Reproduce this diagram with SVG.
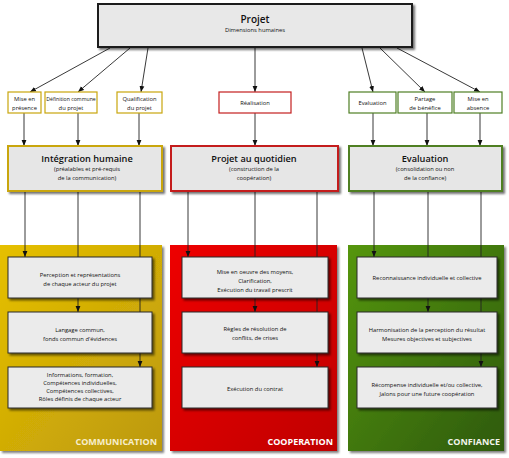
<svg xmlns="http://www.w3.org/2000/svg" width="509" height="458" viewBox="0 0 509 458">
<defs>
<filter id="sh" x="-10%" y="-10%" width="130%" height="140%">
<feDropShadow dx="2" dy="2" stdDeviation="1" flood-color="#000" flood-opacity="0.55"/>
</filter>
<filter id="shp" x="-10%" y="-10%" width="130%" height="130%">
<feDropShadow dx="2" dy="2" stdDeviation="1.2" flood-color="#000" flood-opacity="0.5"/>
</filter>
<linearGradient id="gy" x1="0" y1="0" x2="1" y2="1">
<stop offset="0" stop-color="#E6C000"/><stop offset="1" stop-color="#BC990C"/>
</linearGradient>
<linearGradient id="gr" x1="0" y1="0" x2="1" y2="1">
<stop offset="0" stop-color="#EE0000"/><stop offset="1" stop-color="#C00000"/>
</linearGradient>
<linearGradient id="gg" x1="0" y1="0" x2="1" y2="1">
<stop offset="0" stop-color="#55960F"/><stop offset="1" stop-color="#2E5A0C"/>
</linearGradient>
<marker id="ar" viewBox="0 0 10 10" refX="10" refY="5" markerWidth="6" markerHeight="6" orient="auto" markerUnits="userSpaceOnUse">
<path d="M0,1 L10,5 L0,9 z" fill="#111"/>
</marker>
<style>
text{font-family:"Open Sans","Noto Sans",sans-serif;fill:#111;text-anchor:middle}
.s{font-size:5.8px}
.t{font-size:9.2px;font-weight:600}
.st{font-size:5.8px}
.lbl{font-size:9px;font-weight:700;fill:#fff;text-anchor:end}
.box{fill:#EBEBEB;stroke:#2a2a2a;stroke-width:1;filter:url(#sh)}
.small{fill:#fff;stroke-width:1.2}
.mid{fill:#E6E6E6;stroke-width:2;filter:url(#sh)}
.y{stroke:#C9A60C}
.r{stroke:#C41E1E}
.g{stroke:#4F7F24}
.ca{stroke:#222;stroke-width:0.9;fill:none;marker-end:url(#ar)}
</style>
</defs>

<!-- panels -->
<g id="panel-communication">
<rect x="0" y="245" width="162" height="206" fill="url(#gy)" filter="url(#shp)"/>
<text class="lbl" x="157" y="445" style="fill:#F7EECB">COMMUNICATION</text>
</g>
<g id="panel-cooperation">
<rect x="170" y="245" width="167" height="206" fill="url(#gr)" filter="url(#shp)"/>
<text class="lbl" x="333" y="445">COOPERATION</text>
</g>
<g id="panel-confiance">
<rect x="348" y="245" width="156" height="206" fill="url(#gg)" filter="url(#shp)"/>
<text class="lbl" x="500" y="445" style="fill:#F2F5EC">CONFIANCE</text>
</g>

<!-- connectors -->
<g id="connectors">
<line class="ca" x1="110" y1="48" x2="30" y2="92"/>
<line class="ca" x1="130" y1="48" x2="78" y2="92"/>
<line class="ca" x1="148" y1="48" x2="141" y2="92"/>
<line class="ca" x1="255" y1="48" x2="255" y2="92"/>
<line class="ca" x1="362" y1="48" x2="373" y2="92"/>
<line class="ca" x1="380" y1="48" x2="425" y2="92"/>
<line class="ca" x1="397" y1="48" x2="480" y2="92"/>

<line class="ca" x1="24" y1="113" x2="24" y2="146"/>
<line class="ca" x1="78" y1="113" x2="78" y2="146"/>
<line class="ca" x1="139" y1="113" x2="139" y2="146"/>
<line class="ca" x1="255" y1="113" x2="255" y2="146"/>
<line class="ca" x1="373" y1="113" x2="373" y2="146"/>
<line class="ca" x1="427" y1="113" x2="427" y2="146"/>
<line class="ca" x1="480" y1="113" x2="480" y2="146"/>

<line class="ca" x1="25" y1="191" x2="25" y2="257"/>
<line class="ca" x1="78" y1="191" x2="78" y2="312"/>
<line class="ca" x1="140" y1="191" x2="140" y2="367"/>
<line class="ca" x1="188" y1="191" x2="188" y2="257"/>
<line class="ca" x1="255" y1="191" x2="255" y2="312"/>
<line class="ca" x1="317" y1="191" x2="317" y2="367"/>
<line class="ca" x1="374" y1="191" x2="374" y2="257"/>
<line class="ca" x1="428" y1="191" x2="428" y2="312"/>
<line class="ca" x1="481" y1="191" x2="481" y2="367"/>
</g>

<!-- top -->
<g id="projet">
<rect x="98" y="4" width="314" height="43" fill="#E8E8E8" stroke="#1a1a1a" stroke-width="2" filter="url(#sh)"/>
<text class="t" x="255" y="23" style="font-size:10px">Projet</text>
<text class="st" x="255" y="32">Dimensions humaines</text>
</g>

<!-- small boxes -->
<g id="mise-en-presence">
<rect class="small y" x="8" y="92" width="33" height="21"/>
<text class="s" x="24.5" y="101">Mise en</text>
<text class="s" x="24.5" y="110">présence</text>
</g>
<g id="definition">
<rect class="small y" x="45" y="92" width="52" height="21"/>
<text class="s" x="71" y="101" style="font-size:5.2px">Définition commune</text>
<text class="s" x="71" y="110">du projet</text>
</g>
<g id="qualification">
<rect class="small y" x="117" y="92" width="45" height="21"/>
<text class="s" x="139.5" y="101">Qualification</text>
<text class="s" x="139.5" y="110">du projet</text>
</g>
<g id="realisation">
<rect class="small r" x="219" y="92" width="72" height="21"/>
<text class="s" x="255" y="104.5">Réalisation</text>
</g>
<g id="evaluation-small">
<rect class="small g" x="349" y="92" width="47" height="21"/>
<text class="s" x="372.5" y="104.5">Evaluation</text>
</g>
<g id="partage">
<rect class="small g" x="398" y="92" width="54" height="21"/>
<text class="s" x="425" y="101">Partage</text>
<text class="s" x="425" y="110">de bénéfice</text>
</g>
<g id="mise-en-absence">
<rect class="small g" x="454" y="92" width="48" height="21"/>
<text class="s" x="478" y="101">Mise en</text>
<text class="s" x="478" y="110">absence</text>
</g>

<!-- mid boxes -->
<g id="integration">
<rect class="mid y" x="8" y="146" width="154" height="45"/>
<text class="t" x="87" y="162">Intégration humaine</text>
<text class="s" x="87" y="171">(préalables et pré-requis</text>
<text class="s" x="87" y="180">de la communication)</text>
</g>
<g id="quotidien">
<rect class="mid r" x="171" y="146" width="167" height="45"/>
<text class="t" x="254" y="162">Projet au quotidien</text>
<text class="s" x="254" y="171">(construction de la</text>
<text class="s" x="254" y="180">coopération)</text>
</g>
<g id="evaluation-mid">
<rect class="mid g" x="349" y="146" width="153" height="45"/>
<text class="t" x="425" y="162">Evaluation</text>
<text class="s" x="425" y="171">(consolidation ou non</text>
<text class="s" x="425" y="180">de la confiance)</text>
</g>

<!-- yellow inner -->
<g id="perception">
<rect class="box" x="8" y="257" width="144" height="41"/>
<text class="s" x="80" y="277">Perception et représentations</text>
<text class="s" x="80" y="286">de chaque acteur du projet</text>
</g>
<g id="langage">
<rect class="box" x="8" y="312" width="144" height="41"/>
<text class="s" x="80" y="332">Langage commun,</text>
<text class="s" x="80" y="341">fonds commun d'évidences</text>
</g>
<g id="informations">
<rect class="box" x="8" y="367" width="144" height="41"/>
<text class="s" x="80" y="377">Informations, formation,</text>
<text class="s" x="80" y="385">Compétences individuelles,</text>
<text class="s" x="80" y="393">Compétences collectives,</text>
<text class="s" x="80" y="401">Rôles définis de chaque acteur</text>
</g>

<!-- red inner -->
<g id="mise-en-oeuvre">
<rect class="box" x="182" y="257" width="146" height="41"/>
<text class="s" x="255" y="274">Mise en oeuvre des moyens,</text>
<text class="s" x="255" y="283">Clarification,</text>
<text class="s" x="255" y="292">Exécution du travail prescrit</text>
</g>
<g id="regles">
<rect class="box" x="182" y="312" width="146" height="41"/>
<text class="s" x="255" y="331">Règles de résolution de</text>
<text class="s" x="255" y="340">conflits, de crises</text>
</g>
<g id="execution">
<rect class="box" x="182" y="367" width="146" height="41"/>
<text class="s" x="255" y="391">Exécution du contrat</text>
</g>

<!-- green inner -->
<g id="reconnaissance">
<rect class="box" x="357" y="257" width="140" height="41"/>
<text class="s" x="427" y="280">Reconnaissance individuelle et collective</text>
</g>
<g id="harmonisation">
<rect class="box" x="357" y="312" width="140" height="41"/>
<text class="s" x="427" y="332">Harmonisation de la perception du résultat</text>
<text class="s" x="427" y="341">Mesures objectives et subjectives</text>
</g>
<g id="recompense">
<rect class="box" x="357" y="367" width="140" height="41"/>
<text class="s" x="427" y="387">Récompense individuelle et/ou collective,</text>
<text class="s" x="427" y="396">Jalons pour une future coopération</text>
</g>
</svg>
